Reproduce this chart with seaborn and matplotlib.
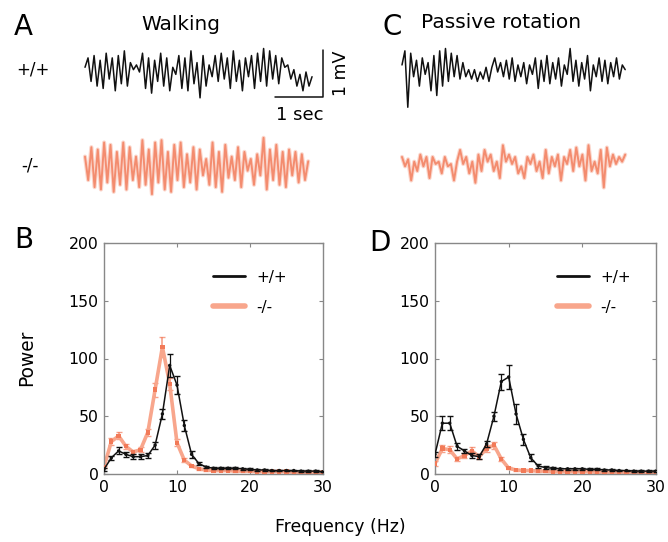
import numpy as np
import seaborn as sns
import matplotlib
matplotlib.use("Agg")
import matplotlib.pyplot as plt

# ---- data ----
# EEG traces, successive peak/trough values (mV)
walk_wt = [0.1, 0.3, -0.2, 0.35, -0.3, 0.25, -0.35, 0.4, -0.15, 0.3, -0.4, 0.35, -0.25, 0.45, -0.3, 0.2,
           0.05, 0.15, 0.0, 0.4, -0.35, 0.3, -0.45, 0.25, -0.2, 0.4, -0.3, 0.3, -0.4, 0.1, -0.05, 0.35,
           -0.35, 0.3, -0.4, 0.45, -0.25, 0.2, -0.55, 0.35, -0.3, 0.15, -0.1, 0.35, -0.2, 0.4, -0.15, 0.3,
           -0.35, 0.45, -0.2, 0.25, -0.4, 0.3, -0.1, 0.35, -0.35, 0.4, -0.2, 0.5, -0.3, 0.45, -0.15, 0.35,
           -0.25, 0.3, 0.1, 0.15, -0.15, 0.05, -0.3, -0.05, -0.4, 0.0, -0.3, -0.1]
walk_ko = [0.2, -0.3, 0.4, -0.45, 0.35, -0.5, 0.5, -0.35, 0.45, -0.55, 0.3, -0.4, 0.5, -0.5, 0.4, -0.3,
           0.2, -0.45, 0.55, -0.4, 0.35, -0.6, 0.5, -0.35, 0.55, -0.5, 0.3, -0.55, 0.45, -0.3, 0.5, -0.45,
           0.25, -0.35, 0.4, -0.5, 0.35, -0.2, 0.15, -0.4, 0.5, -0.45, 0.3, -0.55, 0.45, -0.25, 0.2, -0.3,
           0.4, -0.45, 0.3, -0.1, 0.15, -0.4, 0.25, -0.2, 0.6, -0.5, 0.35, -0.3, 0.45, -0.4, 0.3, -0.45,
           0.35, -0.2, 0.3, -0.35, 0.25, -0.3, 0.1]
rot_wt = [0.15, 0.45, -0.75, 0.4, -0.1, 0.25, -0.3, 0.3, -0.05, 0.2, -0.4, 0.35, -0.5, 0.45, -0.3, 0.5,
          -0.2, 0.4, -0.1, 0.35, -0.15, 0.2, -0.1, 0.05, -0.15, 0.05, -0.2, 0.0, -0.15, 0.1, -0.2, 0.1,
          0.3, 0.0, 0.2, -0.1, 0.25, -0.15, 0.3, -0.2, 0.15, -0.1, 0.2, -0.25, 0.15, -0.05, 0.3, -0.35,
          0.25, -0.2, 0.35, -0.25, 0.2, -0.15, 0.3, -0.3, 0.15, -0.05, 0.5, -0.2, 0.25, -0.3, 0.2, -0.15,
          0.35, -0.4, 0.15, -0.1, 0.3, -0.2, 0.25, -0.25, 0.2, -0.1, 0.3, -0.15, 0.15, 0.05]
rot_ko = [0.15, -0.05, 0.1, -0.35, 0.05, -0.15, 0.2, -0.05, 0.15, -0.3, 0.15, 0.0, 0.05, -0.2, 0.15, -0.05,
          0.0, -0.35, 0.05, 0.3, 0.0, 0.15, -0.2, 0.05, -0.4, 0.2, -0.15, 0.3, 0.05, 0.2, -0.15, 0.05,
          -0.3, 0.4, 0.05, 0.2, 0.0, 0.15, -0.2, -0.05, -0.3, 0.15, 0.0, 0.2, -0.15, 0.05, -0.3, 0.3,
          -0.2, 0.15, -0.05, 0.2, -0.35, 0.15, 0.0, 0.3, -0.15, 0.35, -0.05, 0.2, -0.35, 0.4, -0.15, 0.05,
          -0.2, 0.3, -0.5, 0.35, -0.05, 0.2, 0.0, 0.15, 0.05, 0.2]
trace_secs = [4.73, 4.65, 4.65, 4.65]  # duration of each trace

# power spectra, 0-30 Hz
freq = list(range(31))
walk_pow_wt = [4, 14, 20, 17, 15, 15, 16, 25, 52, 94, 77, 42, 17, 9, 6, 5, 5, 5, 5, 4.5, 4, 3.5, 3.5, 3, 3,
               3, 3, 2.5, 2.5, 2.5, 2]
walk_err_wt = [1, 2, 3, 2, 2, 2, 2, 3, 4, 10, 8, 5, 3, 1.5, 1, 1, 1, 1, 1, 1, 0.8, 0.8, 0.8, 0.8, 0.7,
               0.7, 0.7, 0.6, 0.6, 0.6, 0.6]
walk_pow_ko = [6, 28, 33, 24, 19, 21, 36, 73, 110, 78, 27, 12, 7, 4.5, 3.5, 3, 3, 3, 2.5, 2.5, 2.5, 2, 2,
               2, 2, 2, 1.5, 1.5, 1.5, 1.5, 1.5]
walk_err_ko = [1, 3, 3, 2, 2, 2, 3, 6, 9, 5, 3, 1.5, 1, 1, 0.8, 0.8, 0.8, 0.7, 0.7, 0.7, 0.6, 0.6, 0.6,
               0.6, 0.5, 0.5, 0.5, 0.5, 0.5, 0.5, 0.5]
rot_pow_wt = [17, 44, 44, 24, 20, 16, 15, 26, 50, 80, 84, 52, 30, 14, 7, 5.5, 5, 4.5, 4.5, 4.5, 4.5, 4,
              4, 3.5, 3.5, 3, 3, 2.5, 2.5, 2.5, 2.5]
rot_err_wt = [2, 6, 6, 3, 2, 2, 2, 3, 4, 7, 10, 9, 5, 3, 1.5, 1, 1, 1, 1, 1, 1, 0.8, 0.8, 0.8, 0.7,
              0.7, 0.7, 0.6, 0.6, 0.6, 0.6]
rot_pow_ko = [9, 22, 21, 13, 16, 20, 15, 22, 25, 13, 5, 3.5, 3, 3, 2.5, 2.5, 2, 2, 2, 2, 2, 2, 1.5, 1.5,
              1.5, 1.5, 1.5, 1.5, 1, 1, 1]
rot_err_ko = [2, 3, 3, 2, 2, 3, 2, 3, 3, 2, 1, 0.8, 0.7, 0.7, 0.6, 0.6, 0.5, 0.5, 0.5, 0.5, 0.5, 0.5,
              0.5, 0.5, 0.5, 0.5, 0.5, 0.5, 0.5, 0.5, 0.5]
genotypes = ["+/+", "-/-"]

BLACK = "#111111"
SALMON = "#f27a58"
SALMON_LINE = "#f8a68c"

sns.set_style("ticks")
plt.rcParams["font.family"] = ["DejaVu Sans"]
plt.rcParams["text.color"] = "black"

fig = plt.figure(figsize=(6.68, 5.42), dpi=100)
W, H = 668, 542


def trace_axes(x0, x1, t_start):
    ax = fig.add_axes([x0 / W, (H - 205) / H, (x1 - x0) / W, 170 / H])
    ax.set_xlim((x0 - t_start) / 48, (x1 - t_start) / 48)
    ax.set_ylim((72 - 205) / 47, (72 - 35) / 47)
    ax.axis("off")
    return ax


def draw_trace(ax, vals, secs, offset, color, lw, alpha=1.0):
    t = np.linspace(0, secs, len(vals))
    sns.lineplot(x=t, y=np.array(vals) + offset, ax=ax, color=color, lw=lw, alpha=alpha,
                 sort=False, estimator=None)


def draw_ko_trace(ax, vals, secs, offset):
    # soft, slightly blurred look of the knockout traces
    draw_trace(ax, vals, secs, offset, SALMON, 3.0, 0.3)
    draw_trace(ax, vals, secs, offset, SALMON, 1.4, 0.8)


# A: walking traces
axA = trace_axes(80, 345, 85)
draw_trace(axA, walk_wt, trace_secs[0], 0, BLACK, 1.1)
draw_ko_trace(axA, walk_ko, trace_secs[1], (72 - 166) / 47)
# scale bar
axA.plot([3.958, 4.958, 4.958], [-0.532, -0.532, 0.468], color=BLACK, lw=1.1)
axA.text(4.48, -0.92, "1 sec", ha="center", va="center", fontsize=13)
axA.text(5.33, -0.02, "1 mV", ha="center", va="center", rotation=90, fontsize=12.5)

# C: passive rotation traces
axC = trace_axes(395, 640, 402)
draw_trace(axC, rot_wt, trace_secs[2], 0, BLACK, 1.1)
draw_ko_trace(axC, rot_ko, trace_secs[3], (72 - 164) / 47)


def spectrum_axes(x0, width, leg_x, wt, wt_err, ko, ko_err):
    ax = fig.add_axes([x0 / W, 68 / H, width / W, 231 / H])
    ax.errorbar(freq, ko, yerr=ko_err, fmt="none", ecolor=SALMON, elinewidth=1.2, capsize=2.5,
                alpha=0.7, zorder=2)
    sns.lineplot(x=freq, y=ko, ax=ax, color=SALMON_LINE, lw=2.6, label=genotypes[1], zorder=2)
    sns.scatterplot(x=freq, y=ko, ax=ax, color=SALMON, marker="s", s=10, edgecolor="none", zorder=3)
    sns.lineplot(x=freq, y=wt, ax=ax, color=BLACK, lw=1.1, label=genotypes[0], zorder=4)
    ax.errorbar(freq, wt, yerr=wt_err, fmt="none", ecolor=BLACK, elinewidth=0.9, capsize=2.5, zorder=5)
    sns.scatterplot(x=freq, y=wt, ax=ax, color=BLACK, s=6, edgecolor="none", zorder=6)
    ax.set_xlim(0, 30)
    ax.set_ylim(0, 200)
    ax.set_xticks([0, 10, 20, 30])
    ax.set_yticks([0, 50, 100, 150, 200])
    ax.tick_params(direction="in", top=True, right=True, length=3, labelsize=11.3, color="#888888",
                   labelcolor="black", pad=4)
    for s in ax.spines.values():
        s.set_color("#888888")
        s.set_linewidth(1.0)
    ax.set_xlabel("")
    ax.set_ylabel("")
    handles, labels = ax.get_legend_handles_labels()
    order = [labels.index(g) for g in genotypes]
    leg = ax.legend([handles[i] for i in order], genotypes, frameon=False, fontsize=11,
                    loc="upper left", bbox_to_anchor=(leg_x, 0.885), borderpad=0, borderaxespad=0,
                    handlelength=2.1, handletextpad=0.75, labelspacing=1.0)
    leg.get_lines()[0].set_linewidth(2.0)
    leg.get_lines()[1].set_linewidth(4.0)
    return ax


axB = spectrum_axes(104, 219, 0.498, walk_pow_wt, walk_err_wt, walk_pow_ko, walk_err_ko)
axD = spectrum_axes(435, 221, 0.552, rot_pow_wt, rot_err_wt, rot_pow_ko, rot_err_ko)

# labels
fig.text(14 / W, 1 - 27 / H, "A", fontsize=20, va="center", ha="left")
fig.text(181 / W, 1 - 24 / H, "Walking", fontsize=14.4, va="center", ha="center")
fig.text(383 / W, 1 - 27 / H, "C", fontsize=20, va="center", ha="left")
fig.text(501 / W, 1 - 22 / H, "Passive rotation", fontsize=14.5, va="center", ha="center")
fig.text(33 / W, 1 - 70 / H, "+/+", fontsize=12, va="center", ha="center")
fig.text(30 / W, 1 - 165 / H, "-/-", fontsize=12, va="center", ha="center")
fig.text(14 / W, 1 - 240 / H, "B", fontsize=20, va="center", ha="left")
fig.text(369 / W, 1 - 243 / H, "D", fontsize=20, va="center", ha="left")
fig.text(27 / W, 1 - 358 / H, "Power", fontsize=13.4, va="center", ha="center", rotation=90)
fig.text(340 / W, 1 - 527 / H, "Frequency (Hz)", fontsize=12.4, va="center", ha="center")

fig.savefig("out.png", dpi=100)
